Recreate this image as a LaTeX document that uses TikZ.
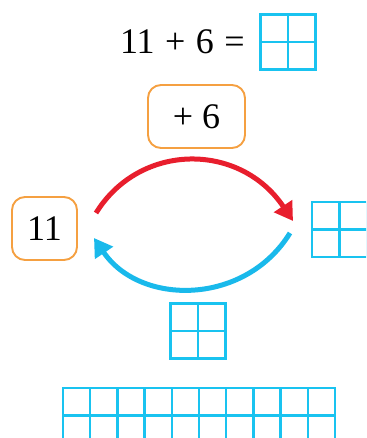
\documentclass[tikz,border=0pt]{standalone}
\usepackage{fontspec}
\setmainfont{Liberation Serif}
\usetikzlibrary{arrows.meta,calc}
\definecolor{gridcyan}{RGB}{25,195,240}
\definecolor{arrowblue}{RGB}{25,185,235}
\definecolor{arrowred}{RGB}{232,30,45}
\definecolor{boxorange}{RGB}{245,160,65}
\tikzset{
  numtext/.style={font=\fontsize{36}{42}\selectfont, text=black},
  gridbox/.style={draw=gridcyan, line width=2.4pt, minimum size=55pt, inner sep=0pt, outer sep=0pt},
  gridline/.style={draw=gridcyan, line width=2.4pt},
  obox/.style={draw=boxorange, line width=1.9pt, rounded corners=13pt, fill=white, inner sep=0pt},
  bigarrow/.style={line width=5pt, -{Triangle[length=18pt,width=21pt]}}
}
\begin{document}
\begin{tikzpicture}[x=1pt,y=-1pt]
\useasboundingbox (0,0) rectangle (366,438);
\clip (0,0) rectangle (366,438);
% equation
\node[numtext, anchor=base east, inner sep=0pt] (eq) at (245,54) {11\hspace{1.5pt} + \hspace{1.5pt}6\hspace{1.5pt} =};
\node[gridbox] (ans) at (288,42) {};
\draw[gridline] (ans.north) -- (ans.south) (ans.west) -- (ans.east);
% operator box
\node[obox, numtext, minimum width=97pt, minimum height=63pt] (plus) at (196.5,116.5) {+ 6};
% start box
\node[obox, numtext, minimum width=65pt, minimum height=63pt] (start) at (44.5,228.5) {11};
% result grid
\node[gridbox] (res) at (339.5,229.5) {};
\draw[gridline] (res.north) -- (res.south) (res.west) -- (res.east);
% arrows
\coordinate (r1) at (96,213);
\coordinate (r2) at (293,221);
\coordinate (b1) at (290,233);
\coordinate (b2) at (94,238);
\draw[bigarrow, arrowred] (r1) .. controls (140,142) and (240,142) .. (r2);
\draw[bigarrow, arrowblue] (b1) .. controls (245,306) and (140,306) .. (b2);
% small grid
\node[gridbox] (small) at (198,331) {};
\draw[gridline] (small.north) -- (small.south) (small.west) -- (small.east);
% ten-frame row
\node[gridbox, minimum width=272pt, minimum height=55pt, anchor=north west] (row) at (63,388) {};
\foreach \i in {1,...,9} {
  \draw[gridline] ($(row.north west)+(27.2*\i,0)$) -- ($(row.south west)+(27.2*\i,0)$);
}
\draw[gridline] (row.west) -- (row.east);
\end{tikzpicture}
\end{document}
